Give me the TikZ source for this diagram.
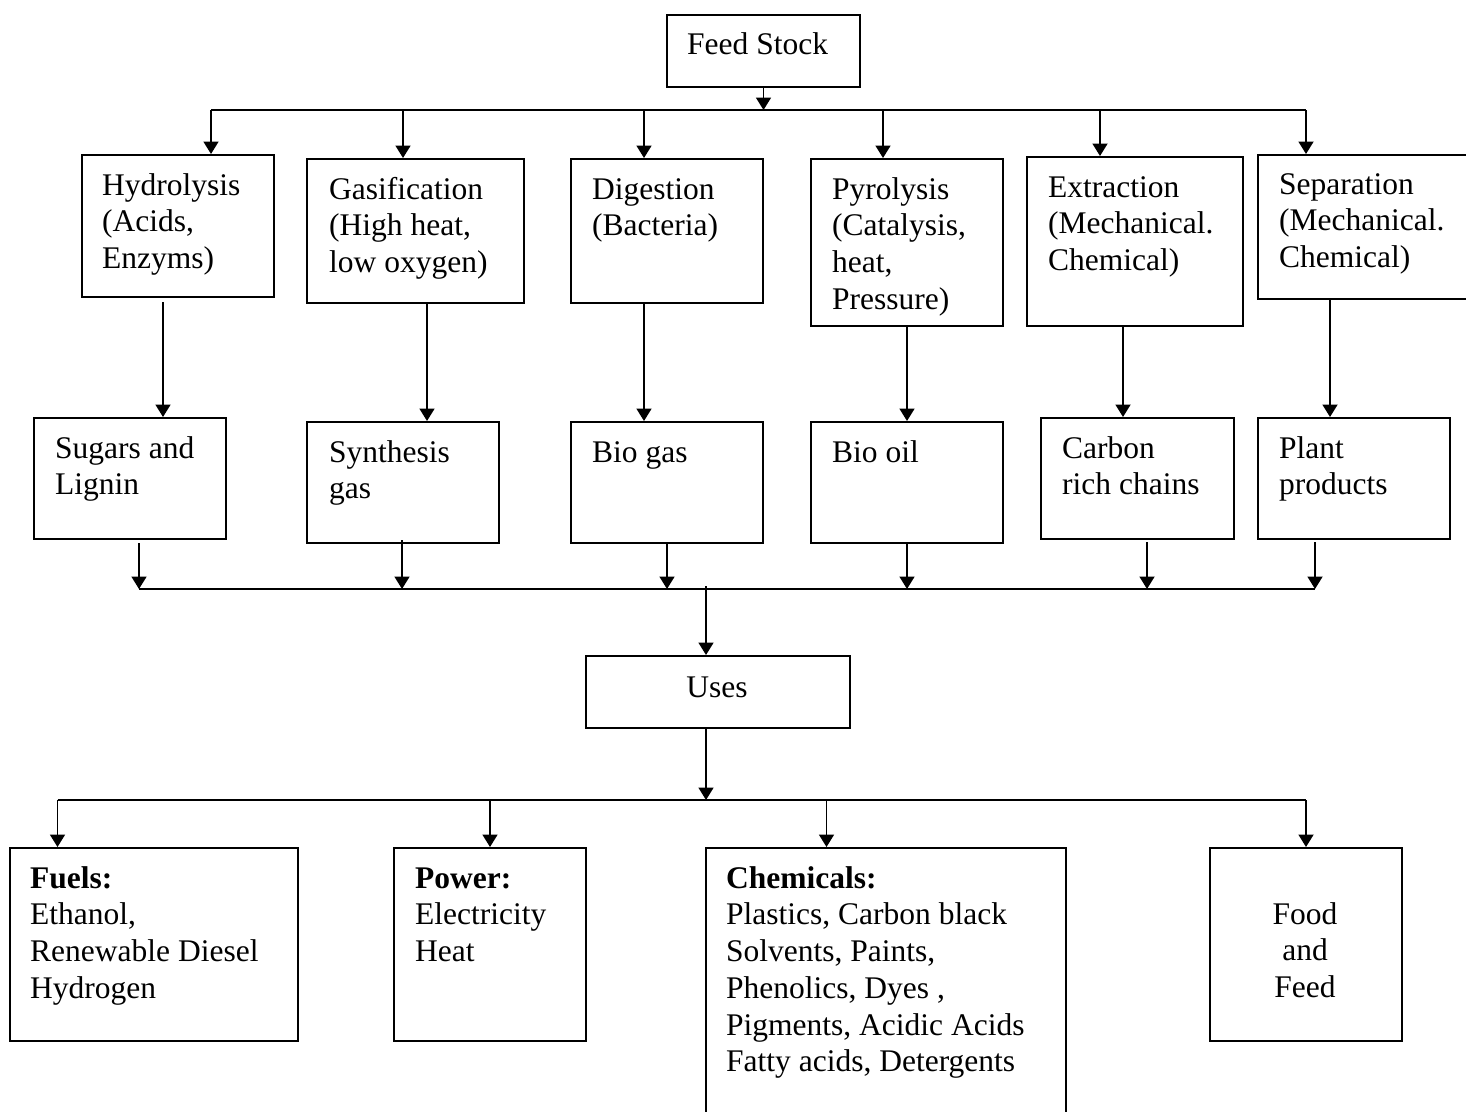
\documentclass[tikz,border=0pt]{standalone}
\usepackage{fontspec}
\setmainfont{Liberation Serif}
\usetikzlibrary{arrows.meta,fit}
\begin{document}
\begin{tikzpicture}[x=1pt,y=-1pt,
  bx/.style={draw,line width=2pt,inner sep=0pt},
  txt/.style={anchor=north west,inner sep=0pt,align=left,font=\fontsize{31.5}{36.7}\selectfont},
  ctxt/.style={anchor=north,inner sep=0pt,align=center,font=\fontsize{31.5}{36.7}\selectfont},
  ln/.style={line width=1.8pt},
  arr/.style={line width=1.8pt,-{Triangle[length=12.5pt,width=15pt]}}]
\useasboundingbox[fill=white] (0,0) rectangle (1466,1111);
% boxes
\node[bx,fit={(667,15) (860,87)}] (feed) {};
\node[bx,fit={(82,155) (274,297)}] (hyd) {};
\node[bx,fit={(307,159) (524,303)}] (gas) {};
\node[bx,fit={(571,159) (763,303)}] (dig) {};
\node[bx,fit={(811,159) (1003,326)}] (pyr) {};
\node[bx,fit={(1027,157) (1243,326)}] (ext) {};
\node[bx,fit={(1258,155) (1472,299)}] (sep) {};
\node[bx,fit={(34,418) (226,539)}] (sug) {};
\node[bx,fit={(307,422) (499,543)}] (syn) {};
\node[bx,fit={(571,422) (763,543)}] (bgs) {};
\node[bx,fit={(811,422) (1003,543)}] (boil) {};
\node[bx,fit={(1041,418) (1234,539)}] (carb) {};
\node[bx,fit={(1258,418) (1450,539)}] (plant) {};
\node[bx,fit={(586,656) (850,728)}] (uses) {};
\node[bx,fit={(10,848) (298,1041)}] (fuel) {};
\node[bx,fit={(394,848) (586,1041)}] (pow) {};
\node[bx,fit={(706,848) (1066,1125)}] (chem) {};
\node[bx,fit={(1210,848) (1402,1041)}] (food) {};
% texts (baseline - 25)
\newcommand{\fs}{\rule{0pt}{25pt}}
\node[txt] (feedT) at (687,29) {\fs Feed Stock};
\node[txt] (hydT) at (102,170) {\fs Hydrolysis\\(Acids,\\Enzyms)};
\node[txt] (gasT) at (329,174) {\fs Gasification\\(High heat,\\low oxygen)};
\node[txt] (digT) at (592,174) {\fs Digestion\\(Bacteria)};
\node[txt] (pyrT) at (832,174) {\fs Pyrolysis\\(Catalysis,\\heat,\\Pressure)};
\node[txt] (extT) at (1048,172) {\fs Extraction\\(Mechanical.\\Chemical)};
\node[txt] (sepT) at (1279,169) {\fs Separation\\(Mechanical.\\Chemical)};
\node[txt] (sugT) at (55,433) {\fs Sugars and\\Lignin};
\node[txt] (synT) at (329,437) {\fs Synthesis\\gas};
\node[txt] (bgsT) at (592,437) {\fs Bio gas};
\node[txt] (boilT) at (832,437) {\fs Bio oil};
\node[txt] (carbT) at (1062,433) {\fs Carbon\\rich chains};
\node[txt] (plantT) at (1279,433) {\fs Plant\\products};
\node[ctxt] (usesT) at (717,672) {\fs Uses};
\node[txt] (fuelT) at (30,863) {\fs\textbf{Fuels:}\\Ethanol,\\Renewable Diesel\\Hydrogen};
\node[txt] (powT) at (415,863) {\fs\textbf{Power:}\\Electricity\\Heat};
\node[txt] (chemT) at (726,863) {\fs\textbf{Chemicals:}\\Plastics, Carbon black\\Solvents, Paints,\\Phenolics, Dyes ,\\Pigments, Acidic Acids\\Fatty acids, Detergents};
\node[ctxt] (foodT) at (1305,899) {\fs Food\\and\\Feed};
% bus 1
\coordinate (a1) at (211,110); \coordinate (a2) at (403,110);
\coordinate (a3) at (644,110); \coordinate (a4) at (883,110);
\coordinate (a5) at (1100,110); \coordinate (a6) at (1306,110);
\draw[ln] (a1) -- (a6);
\draw[arr] (feed.south) -- (feed.south |- a1);
\draw[arr] (a1) -- (a1 |- hyd.north);
\draw[arr] (a2) -- (a2 |- gas.north);
\draw[arr] (a3) -- (a3 |- dig.north);
\draw[arr] (a4) -- (a4 |- pyr.north);
\draw[arr] (a5) -- (a5 |- ext.north);
\draw[arr] (a6) -- (a6 |- sep.north);
% middle arrows
\coordinate (m1) at (163,302); \coordinate (m2) at (427,303);
\coordinate (m3) at (644,303); \coordinate (m4) at (907,326);
\coordinate (m5) at (1123,326); \coordinate (m6) at (1330,299);
\draw[arr] (m1) -- (m1 |- sug.north);
\draw[arr] (m2) -- (m2 |- syn.north);
\draw[arr] (m3) -- (m3 |- bgs.north);
\draw[arr] (m4) -- (m4 |- boil.north);
\draw[arr] (m5) -- (m5 |- carb.north);
\draw[arr] (m6) -- (m6 |- plant.north);
% bus 2
\coordinate (b1) at (139,589); \coordinate (b2) at (402,589);
\coordinate (b3) at (667,589); \coordinate (b4) at (907,589);
\coordinate (b5) at (1147,589); \coordinate (b6) at (1315,589);
\coordinate (bu) at (706,589);
\draw[ln] (b1) -- (b6);
\draw[arr] (b1 |- 0,543) -- (b1);
\draw[arr] (b2 |- 0,540) -- (b2);
\draw[arr] (b3 |- 0,543) -- (b3);
\draw[arr] (b4 |- 0,543) -- (b4);
\draw[arr] (b5 |- 0,542) -- (b5);
\draw[arr] (b6 |- 0,542) -- (b6);
\draw[arr] ([yshift=3pt]bu) -- (bu |- uses.north);
% bus 3
\coordinate (c1) at (57.5,800); \coordinate (c2) at (490,800);
\coordinate (c3) at (826.5,800); \coordinate (c4) at (1306,800);
\coordinate (cu) at (706,800);
\draw[ln] (c1) -- (c4);
\draw[arr] (cu |- uses.south) -- (cu);
\draw[arr] (c1) -- (c1 |- fuel.north);
\draw[arr] (c2) -- (c2 |- pow.north);
\draw[arr] (c3) -- (c3 |- chem.north);
\draw[arr] (c4) -- (c4 |- food.north);
\end{tikzpicture}
\end{document}
